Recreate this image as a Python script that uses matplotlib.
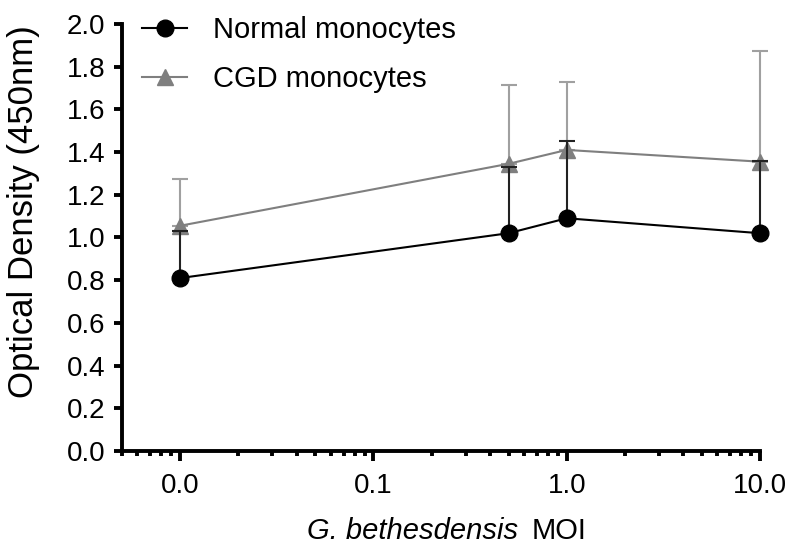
import matplotlib.pyplot as plt
from matplotlib.lines import Line2D
from matplotlib.ticker import FixedLocator, FuncFormatter, LogLocator, NullFormatter

plt.rcParams['font.family'] = ['Liberation Sans', 'DejaVu Sans']

# MOI values (first point is plotted at 0.01 and labelled 0.0)
moi = [0.01, 0.5, 1.0, 10.0]

normal_mean = [0.81, 1.02, 1.09, 1.02]
normal_err = [0.22, 0.31, 0.36, 0.34]

cgd_mean = [1.055, 1.345, 1.41, 1.355]
cgd_err = [0.22, 0.37, 0.32, 0.52]

grey = '#7f7f7f'

fig = plt.figure(figsize=(8, 5.51), dpi=100)
ax = fig.add_axes([0.1525, 0.1815, 0.7975, 0.775])

# CGD monocytes (grey triangles), upper error only
ax.errorbar(moi, cgd_mean, yerr=[[0] * 4, cgd_err], color=grey, ecolor='#a0a0a0',
            marker='^', markersize=11, linewidth=1.5, elinewidth=1.5, capsize=6,
            capthick=1.5, zorder=2, clip_on=False)

# Normal monocytes (black circles)
ax.errorbar(moi, normal_mean, yerr=[[0] * 4, normal_err], color='black', ecolor='#222222',
            marker='o', markersize=12, linewidth=1.5, elinewidth=1.5, capsize=6,
            capthick=1.5, zorder=3, clip_on=False)

ax.set_xscale('log')
ax.set_xlim(0.005, 10)
ax.set_ylim(0, 2.0)
ax.set_yticks([0.0, 0.2, 0.4, 0.6, 0.8, 1.0, 1.2, 1.4, 1.6, 1.8, 2.0])
ax.yaxis.set_major_formatter(FuncFormatter(lambda v, p: '%.1f' % v))

ax.xaxis.set_major_locator(FixedLocator([0.01, 0.1, 1, 10]))
ax.xaxis.set_major_formatter(FuncFormatter(lambda v, p: '%.1f' % v))
ax.xaxis.set_minor_locator(LogLocator(base=10, subs=range(2, 10)))
ax.xaxis.set_minor_formatter(NullFormatter())

for s in ['top', 'right']:
    ax.spines[s].set_visible(False)
for s in ['left', 'bottom']:
    ax.spines[s].set_linewidth(2.8)

ax.tick_params(axis='y', which='major', direction='out', length=6, width=2.8,
               labelsize=20, pad=6)
ax.tick_params(axis='x', which='major', direction='out', length=7, width=2.8,
               labelsize=20, pad=9)
ax.tick_params(axis='x', which='minor', direction='out', length=3.5, width=2.8)

ax.set_ylabel('Optical Density (450nm)', fontsize=25)
ax.yaxis.set_label_coords(-0.128, 0.56)
ax.set_xlabel('')
fig.text(0.665, 0.037, 'MOI', fontsize=21, ha='left', va='center')
fig.text(0.6475, 0.037, 'G. bethesdensis', fontsize=21, fontstyle='italic',
         ha='right', va='center')

handles = [
    Line2D([], [], color='black', marker='o', markersize=12, linewidth=1.5),
    Line2D([], [], color=grey, marker='^', markersize=11, linewidth=1.5),
]
labels = ['Normal monocytes', 'CGD monocytes']
fig.legend(handles, labels, loc='upper left', frameon=False, fontsize=21,
           bbox_to_anchor=(142 / 800, 0.971), bbox_transform=fig.transFigure,
           borderpad=0, borderaxespad=0, handlelength=1.55, handletextpad=0.9,
           labelspacing=0.73)

fig.savefig('out.png', dpi=100)
